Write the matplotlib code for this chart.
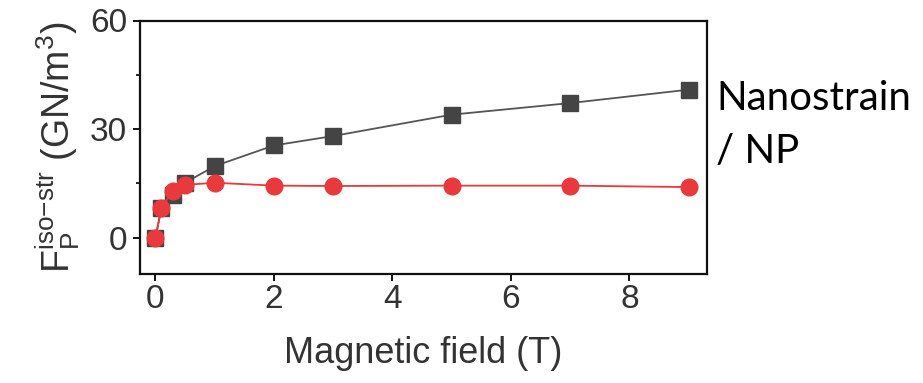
import matplotlib
matplotlib.use("Agg")
import matplotlib.pyplot as plt
from matplotlib.ticker import MultipleLocator

field = [0, 0.1, 0.3, 0.5, 1, 2, 3, 5, 7, 9]
nanostrain = [0, 8.2, 11.8, 15.2, 19.8, 25.5, 28.1, 34.0, 37.2, 40.9]
np_vals = [0, 8.3, 13.0, 14.6, 15.2, 14.4, 14.3, 14.4, 14.4, 14.0]
yticks = [0, 30, 60]
xticks = [0, 2, 4, 6, 8]

plt.rcParams['font.family'] = ['Liberation Sans', 'DejaVu Sans']
plt.rcParams['mathtext.fontset'] = 'custom'
plt.rcParams['mathtext.rm'] = 'Liberation Sans'
plt.rcParams['mathtext.it'] = 'Liberation Sans'

fig = plt.figure(figsize=(9.23, 3.83), dpi=100)
ax = fig.add_axes([139.5/923, 1 - 274/383, (707-139.5)/923, (274-20.5)/383])

ax.plot(field, nanostrain, color='#555555', lw=1.3, marker='s', ms=11,
        mfc='#444444', mec='#444444', zorder=2)
ax.plot(field, np_vals, color='#e8393d', lw=1.3, marker='o', ms=12,
        mfc='#e8393d', mec='#e8393d', zorder=3)

ax.set_xlim(-0.27, 9.31)
ax.set_ylim(-10, 60)
ax.set_xticks(xticks)
ax.set_yticks(yticks)
ax.yaxis.set_minor_locator(MultipleLocator(15))
for s in ax.spines.values():
    s.set_linewidth(1.6)
    s.set_color('#111111')
ax.tick_params(axis='both', which='major', length=5, width=1.3, labelsize=24,
               labelcolor='#333333')
ax.tick_params(axis='x', which='major', pad=2)
ax.tick_params(axis='y', which='major', pad=4)
ax.tick_params(axis='y', which='minor', length=3, width=1.2)

ax.set_xlabel('Magnetic field (T)', fontsize=26, color='#333333', labelpad=15)
ax.set_ylabel(r'F$_\mathregular{P}^\mathregular{iso\mathrm{-}str}$ (GN/m$^\mathregular{3}$)',
              fontsize=27, color='#333333', labelpad=6)

fig.text(716/923, 1 - 110/383, 'Nanostrain', fontsize=29, family=['Lato', 'DejaVu Sans'],
         color='black', va='baseline')
fig.text(716/923, 1 - 163/383, '/ NP', fontsize=29, family=['Lato', 'DejaVu Sans'],
         color='black', va='baseline')

fig.savefig('out.png', dpi=100)
